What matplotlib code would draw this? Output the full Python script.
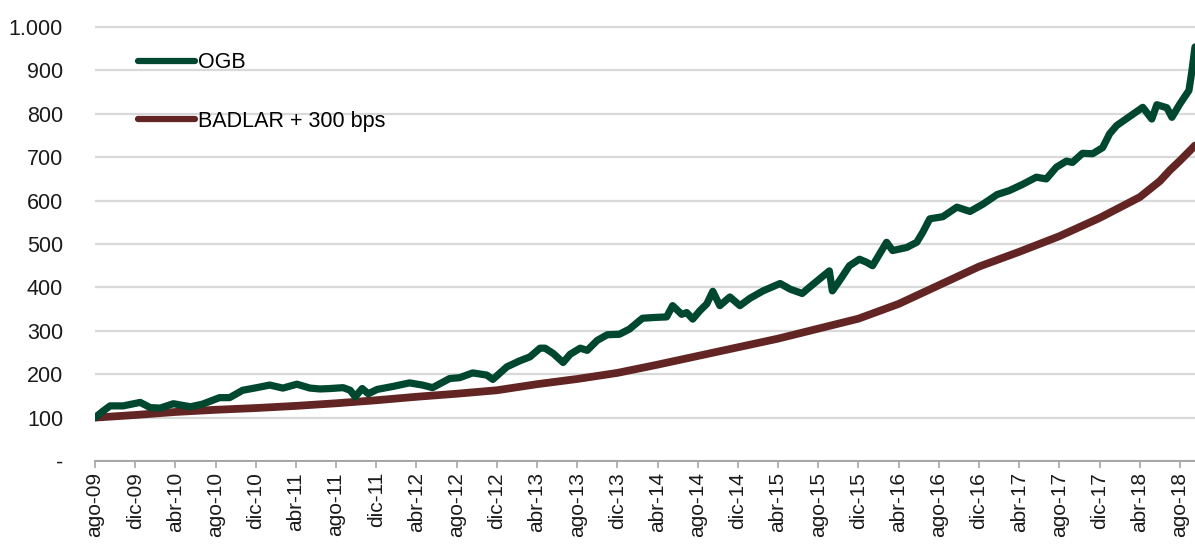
import matplotlib
matplotlib.use("Agg")
import matplotlib.pyplot as plt
from matplotlib.ticker import FuncFormatter

# meses desde ago-09
ogb_t = [0.0, 0.8, 1.5, 2.8, 4.5, 5.5, 6.5, 7.8, 9.5, 10.7, 12.4, 13.4, 14.7, 16.1,
         17.4, 18.7, 20.1, 21.4, 22.4, 23.4, 24.7, 25.4, 25.9, 26.6, 27.2, 28.1,
         29.7, 31.3, 32.6, 33.6, 35.3, 36.3, 37.6, 39.0, 39.6, 41.0, 42.3, 43.3,
         44.3, 44.8, 45.6, 46.6, 47.3, 48.3, 49.0, 50.0, 51.0, 52.2, 53.2, 54.5,
         55.9, 56.9, 57.5, 58.4, 58.9, 59.5, 60.2, 60.9, 61.5, 62.2, 63.2, 64.2,
         65.2, 66.5, 68.2, 69.2, 70.4, 71.1, 72.1, 73.1, 73.4, 74.1, 75.1, 76.1,
         76.8, 77.4, 78.1, 78.8, 79.4, 80.8, 81.8, 82.4, 83.1, 84.4, 85.8, 87.1,
         88.4, 89.8, 91.0, 92.3, 93.7, 94.7, 95.7, 96.7, 97.3, 98.3, 99.3, 100.3,
         101.0, 101.7, 103.0, 104.3, 105.2, 105.7, 106.7, 107.2, 108.0, 108.9,
         109.2, 109.5]
ogb = [100, 115, 127, 127, 135, 123, 122, 132, 125, 131, 146, 146, 163, 169,
       175, 168, 177, 168, 166, 167, 169, 163, 148, 167, 155, 165,
       172, 180, 175, 169, 190, 192, 203, 198, 188, 217, 231, 240,
       260, 260, 248, 227, 246, 260, 255, 278, 291, 292, 304, 329,
       331, 332, 358, 338, 342, 327, 346, 362, 391, 358, 378, 358,
       375, 392, 409, 396, 386, 400, 419, 438, 392, 415, 450, 465,
       458, 450, 477, 504, 485, 492, 504, 527, 558, 563, 585, 575,
       592, 614, 623, 637, 654, 650, 677, 691, 688, 709, 708, 722,
       754, 773, 794, 815, 788, 821, 814, 792, 823, 854,
       900, 954]

badlar_t = [0, 4, 8, 12, 16, 20, 24, 28, 32, 36, 40, 44, 48, 52, 56, 60, 64,
            68, 72, 76, 80, 84, 88, 92, 96, 100, 104, 106, 107, 108, 109.5]
badlar = [100, 106, 113, 118, 122, 127, 133, 140, 148, 155, 163, 177, 189, 203,
          222, 242, 262, 282, 305, 328, 362, 405, 448, 482, 518, 560, 608, 645,
          670, 692, 727]

tick_labels = ["ago-09", "dic-09", "abr-10", "ago-10", "dic-10", "abr-11", "ago-11",
               "dic-11", "abr-12", "ago-12", "dic-12", "abr-13", "ago-13", "dic-13",
               "abr-14", "ago-14", "dic-14", "abr-15", "ago-15", "dic-15", "abr-16",
               "ago-16", "dic-16", "abr-17", "ago-17", "dic-17", "abr-18", "ago-18"]

plt.rcParams["font.family"] = ["Liberation Sans", "DejaVu Sans"]

fig = plt.figure(figsize=(11.95, 5.44), dpi=100)
ax = fig.add_axes([95 / 1195, 1 - 461 / 544, 1100 / 1195, 438.3 / 544])

ax.plot(badlar_t, badlar, color="#632523", lw=5.6, solid_capstyle="round",
        label="BADLAR + 300 bps", zorder=3)
ax.plot(ogb_t, ogb, color="#00472F", lw=5.2, solid_capstyle="round",
        solid_joinstyle="round", label="OGB", zorder=4)

ax.set_xlim(0, 109.5)
ax.set_ylim(0, 1010)
ax.set_yticks(range(0, 1001, 100))
ax.yaxis.set_major_formatter(FuncFormatter(
    lambda v, p: "-" if v == 0 else f"{int(v):,}".replace(",", ".")))
ax.set_xticks([4 * i for i in range(len(tick_labels))])
ax.set_xticklabels(tick_labels, rotation=90, va="top", ha="center")

ax.grid(axis="y", color="#D9D9D9", lw=1.6)
ax.set_axisbelow(True)
for s in ["top", "right", "left"]:
    ax.spines[s].set_visible(False)
ax.spines["bottom"].set_color("#A6A6A6")
ax.spines["bottom"].set_linewidth(1.4)

ax.tick_params(axis="y", length=0, pad=23, labelsize=15.5, labelcolor="#1a1a1a")
ax.tick_params(axis="x", length=5, width=1.2, color="#A6A6A6", pad=3,
               labelsize=15, labelcolor="#1a1a1a")

handles, labels = ax.get_legend_handles_labels()
leg = ax.legend(handles[::-1], labels[::-1], loc="upper left",
                bbox_to_anchor=(0.039, 0.933), frameon=False, fontsize=15.5,
                handlelength=2.65, handletextpad=0.15, labelspacing=1.75,
                borderpad=0, borderaxespad=0)
for h in leg.get_lines():
    h.set_linewidth(4.5)

fig.savefig("out.png", dpi=100)
